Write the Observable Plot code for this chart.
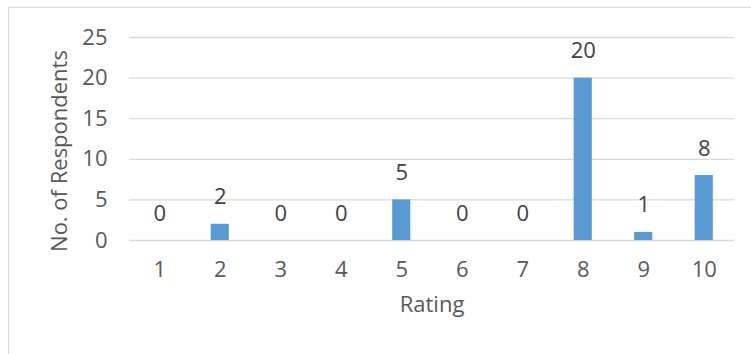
<!DOCTYPE html>
<html>
<head>
<meta charset="utf-8">
<script src="https://cdn.jsdelivr.net/npm/d3@7"></script>
<script src="https://cdn.jsdelivr.net/npm/@observablehq/plot@0.6"></script>
<style>
  html, body { margin: 0; padding: 0; background: #fff; overflow: hidden; }
  #wrap { position: relative; width: 751px; height: 354px; }
  #edge { position: absolute; left: 8px; top: 7px; right: -4px; bottom: -4px;
          border-left: 1.5px solid #d9d9d9; border-top: 1.5px solid #d9d9d9; }
  #chart { position: absolute; left: 0; top: 0; }
</style>
</head>
<body>
<div id="wrap"><div id="edge"></div><div id="chart"></div></div>
<script>
// Survey ratings and how many respondents gave each one
const ratings = ["1", "2", "3", "4", "5", "6", "7", "8", "9", "10"];
const respondents = [0, 2, 0, 0, 5, 0, 0, 20, 1, 8];
const yTicks = [0, 5, 10, 15, 20, 25];

const data = ratings.map((r, i) => ({rating: r, count: respondents[i]}));

const font = "'Open Sans', sans-serif";
const size = 22;

const chart = Plot.plot({
  width: 751,
  height: 354,
  marginLeft: 129,
  marginRight: 17,
  marginTop: 37,
  marginBottom: 114,
  style: {fontFamily: font, fontSize: size + "px", color: "#595959", background: "transparent"},
  x: {domain: ratings, paddingInner: 0.7, paddingOuter: 0.35, round: false, label: null},
  y: {domain: [0, 25], label: null},
  marks: [
    Plot.gridY(yTicks, {stroke: "#d9d9d9", strokeOpacity: 1, strokeWidth: 1.3}),
    Plot.barY(data, {x: "rating", y: "count", fill: "#5b9bd5"}),
    Plot.text(data, {x: "rating", y: "count", text: d => String(d.count), dy: -27,
      fill: "#404040", fontSize: size}),
    Plot.axisY(yTicks, {tickSize: 0, tickPadding: 22, fill: "#595959", fontSize: size}),
    Plot.axisX({tickSize: 0, tickPadding: 21, fill: "#595959", fontSize: size}),
    Plot.text(["Rating"], {frameAnchor: "bottom", dy: 71, fill: "#595959", fontSize: size}),
    Plot.text(["No. of Respondents"], {frameAnchor: "left", textAnchor: "middle", rotate: -90,
      dx: -70, dy: 12, fill: "#595959", fontSize: size})
  ]
});

document.getElementById("chart").appendChild(chart);
</script>
</body>
</html>
